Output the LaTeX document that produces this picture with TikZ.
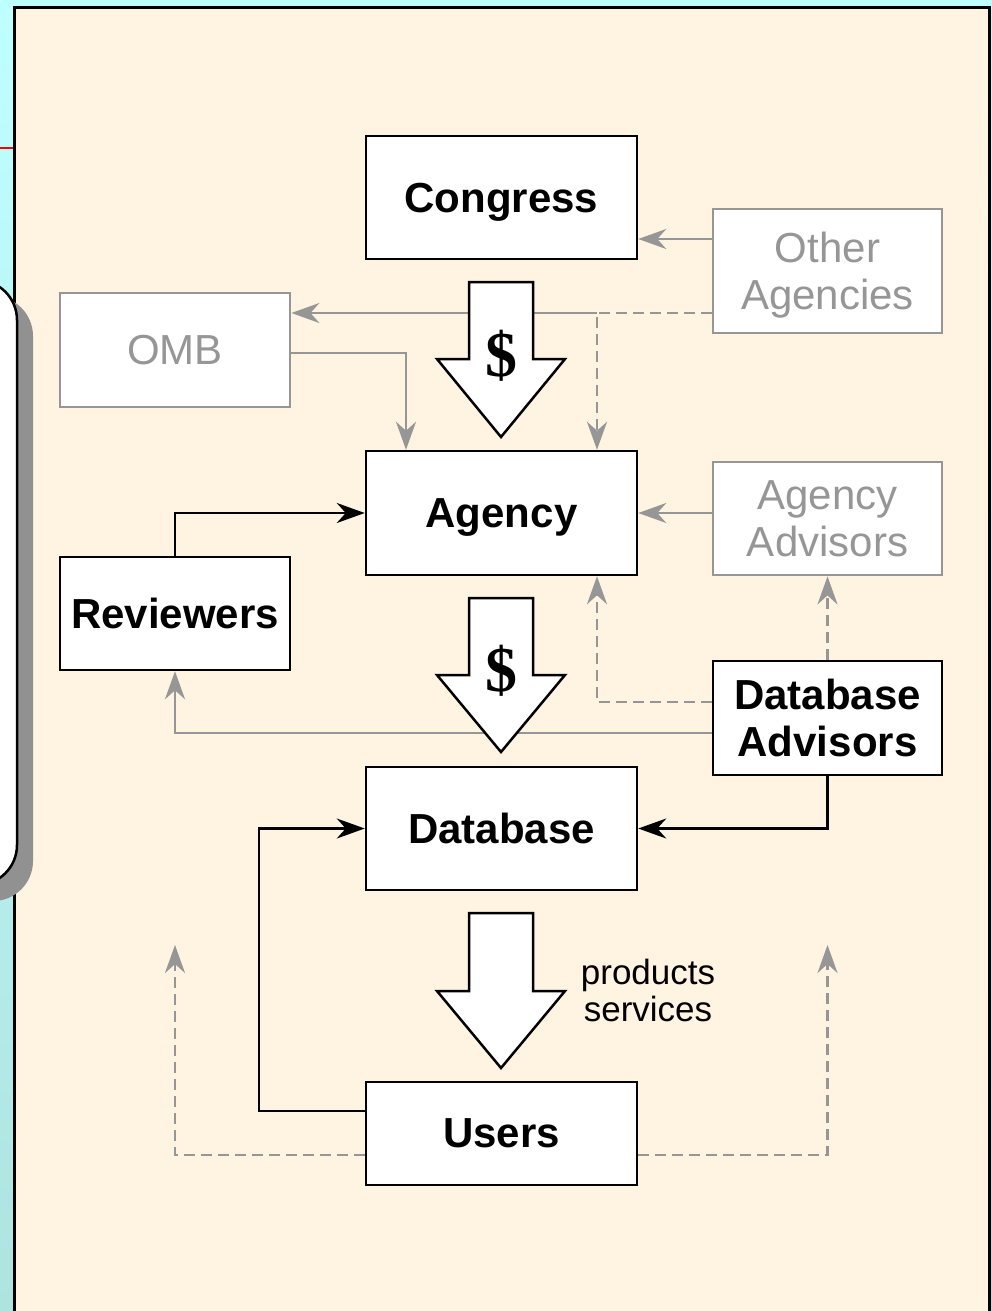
\documentclass[tikz,border=0pt]{standalone}
\usepackage{fontspec}
\setmainfont{Liberation Sans}
\newfontfamily\dollarfont{Liberation Serif}
\usetikzlibrary{arrows.meta}
\definecolor{cyantop}{RGB}{190,255,255}
\definecolor{cyanbot}{RGB}{174,228,224}
\definecolor{beige}{RGB}{255,243,226}
\definecolor{gry}{RGB}{150,150,150}
\definecolor{shadowgray}{RGB}{145,145,145}
\tikzset{
  box/.style={draw=black, line width=2.5pt, fill=white, inner sep=0pt, align=center,
    text depth=0pt, font=\fontsize{42}{47}\selectfont\bfseries},
  gbox/.style={draw=gry, line width=2.8pt, fill=white, inner sep=0pt, align=center,
    text depth=0pt, text=gry, font=\fontsize{42}{47}\selectfont},
  tipstyle/.style={-{Stealth[length=28pt,width=20pt,inset=9pt]}},
  barr/.style={line width=2.5pt, draw=black, tipstyle},
  garr/.style={line width=2.5pt, draw=gry, tipstyle},
  gdash/.style={garr, dash pattern=on 11pt off 6pt},
  bigarrow/.style={draw=black, line width=2.5pt, fill=white, line join=miter},
  dollar/.style={font=\dollarfont\bfseries\fontsize{64}{64}\selectfont, inner sep=0pt},
}
\begin{document}
\begin{tikzpicture}[x=1pt,y=-1pt]
\useasboundingbox (0,0) rectangle (992,1311);
\clip (0,0) rectangle (992,1311);
% background
\shade[top color=cyantop, bottom color=cyanbot] (0,0) rectangle (992,1311);
\fill[beige] (13,7) rectangle (990,1311);
\draw[line width=3pt] (14,1320) -- (14,8) -- (989.5,8) -- (989.5,1320);
\draw[red, line width=1.8pt] (0,148) -- (13,148);
% left rounded panel with shadow
\fill[shadowgray, rounded corners=40pt] (-300,296) rectangle (33,901);
\draw[fill=white, line width=2.5pt, rounded corners=40pt] (-300,280) rectangle (17,885);

% boxes
\node[box, minimum width=271pt, minimum height=123pt] (congress) at (501.5,197.5) {Congress};
\node[gbox, minimum width=229pt, minimum height=124pt] (otherag) at (827.5,271) {Other\\Agencies};
\node[gbox, minimum width=230pt, minimum height=114pt] (omb) at (175,350) {OMB};
\node[box, minimum width=271pt, minimum height=124pt] (agency) at (501.5,513) {Agency};
\node[gbox, minimum width=229pt, minimum height=113pt] (agadv) at (827.5,518.5) {Agency\\Advisors};
\node[box, minimum width=230pt, minimum height=113pt] (reviewers) at (175,613.5) {Reviewers};
\node[box, minimum width=229pt, minimum height=114pt] (dbadv) at (827.5,718) {Database\\Advisors};
\node[box, minimum width=271pt, minimum height=123pt] (database) at (501.5,828.5) {Database};
\node[box, minimum width=271pt, minimum height=103pt] (users) at (501.5,1133.5) {Users};

% connectors
\coordinate (j1) at (597,313);
\coordinate (j2) at (597,702);
\coordinate (freeL) at (175,945);
\coordinate (freeR) at (827.5,945);
\draw[garr] (otherag.west |- 0,239) -- (congress.east |- 0,239);
\draw[gdash] (otherag.west |- j1) -- (j1) -- (agency.north -| j1);
\draw[garr] (j1) -- (omb.east |- j1);
\draw[garr] (omb.east |- 0,353) -- (406,353) -- (agency.north -| 406,0);
\draw[garr] (agadv.west |- agency.east) -- (agency.east);
\draw[barr] (reviewers.north) -- (175,513) -- (agency.west);
\draw[gdash] (dbadv.west |- j2) -- (j2) -- (agency.south -| j2);
\draw[gdash] (dbadv.north) -- (agadv.south);
\draw[garr] (dbadv.west |- 0,733) -- (175,733) -- (reviewers.south);
\draw[barr] (dbadv.south) -- (827.5,828.5) -- (database.east);
\draw[barr] (users.west |- 0,1111) -- (259,1111) -- (259,828.5) -- (database.west);
\draw[gdash] (users.west |- 0,1155) -- (175,1155) -- (freeL);
\draw[gdash] (users.east |- 0,1155) -- (827.5,1155) -- (freeR);

% big arrows
\draw[bigarrow] (469,282) -- (533,282) -- (533,359) -- (565,359) -- (501,437) -- (437,359) -- (469,359) -- cycle;
\node[dollar] (d1) at (501,356) {\$};
\draw[bigarrow] (469,598) -- (533,598) -- (533,675) -- (565,675) -- (501,752) -- (437,675) -- (469,675) -- cycle;
\node[dollar] (d2) at (501,671) {\$};
\draw[bigarrow] (469,913) -- (533,913) -- (533,991) -- (565,991) -- (501,1068) -- (437,991) -- (469,991) -- cycle;
\node[align=center, inner sep=0pt, font=\fontsize{35}{37}\selectfont] (ps) at (648,990) {products\\services};
\end{tikzpicture}
\end{document}
